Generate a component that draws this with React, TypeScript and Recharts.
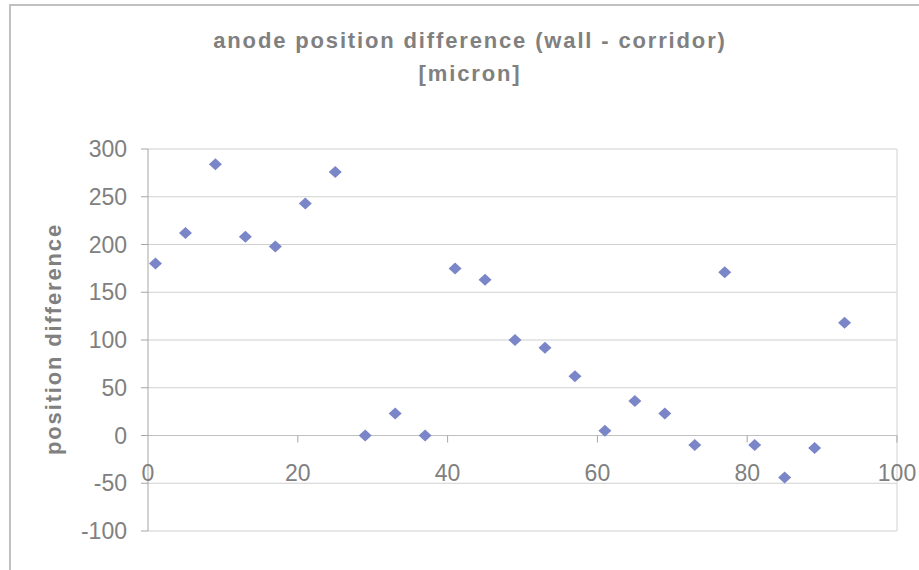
import React from "react";
import {
  ScatterChart,
  Scatter,
  XAxis,
  YAxis,
  CartesianGrid,
  ReferenceLine,
} from "recharts";

// chamber index
const positions = [1, 5, 9, 13, 17, 21, 25, 29, 33, 37, 41, 45, 49, 53, 57, 61, 65, 69, 73, 77, 81, 85, 89, 93];
// wall - corridor difference, micron
const differences = [180, 212, 284, 208, 198, 243, 276, 0, 23, 0, 175, 163, 100, 92, 62, 5, 36, 23, -10, 171, -10, -44, -13, 118];

const xTicks = [0, 20, 40, 60, 80, 100];
const yTicks = [-100, -50, 0, 50, 100, 150, 200, 250, 300];

const data = positions.map((x, i) => ({ x, y: differences[i] }));

const W = 919;
const H = 570;
const PLOT_TOP = 149;
const PLOT_BOTTOM = 531;
const PLOT_LEFT = 148;
const PLOT_RIGHT = 897;
const Y_AXIS_W = 60;
const X_AXIS_H = 30;

const GRAY = "#808080";
const FONT = "'Liberation Sans', Arial, sans-serif";

// distance from plot bottom (-100) up to the zero line
const zeroOffset = ((0 - -100) / (300 - -100)) * (PLOT_BOTTOM - PLOT_TOP);

const Diamond = (props: any) => {
  const { cx, cy } = props;
  if (cx == null || cy == null) return null;
  const w = 6.5;
  const h = 6;
  return (
    <polygon
      points={`${cx - w},${cy} ${cx},${cy - h} ${cx + w},${cy} ${cx},${cy + h}`}
      fill="#7B86C8"
    />
  );
};

const XTick = (props: any) => {
  const { x, y, payload } = props;
  const y0 = y - zeroOffset;
  return (
    <g>
      {payload.value !== 0 && (
        <line x1={x} x2={x} y1={y0} y2={y0 + 7} stroke="#a6a6a6" />
      )}
      <text
        x={x}
        y={y0 + 45}
        textAnchor="middle"
        fill={GRAY}
        fontSize={23}
        fontFamily={FONT}
      >
        {payload.value}
      </text>
    </g>
  );
};

const titleStyle = {
  fill: GRAY,
  fontSize: 22,
  fontWeight: "bold" as const,
  letterSpacing: 1.85,
  fontFamily: FONT,
};

const App = () => {
  return (
    <div style={{ position: "absolute", left: 0, top: 0, width: W, height: H, background: "#fff" }}>
      <ScatterChart
        width={W}
        height={H}
        margin={{
          top: PLOT_TOP,
          bottom: H - PLOT_BOTTOM - X_AXIS_H,
          left: PLOT_LEFT - Y_AXIS_W,
          right: W - PLOT_RIGHT,
        }}
      >
        <CartesianGrid vertical={false} stroke="#d0d0d0" strokeWidth={1.2} />
        <XAxis
          type="number"
          dataKey="x"
          domain={[0, 100]}
          ticks={xTicks}
          axisLine={false}
          tickLine={false}
          tickSize={0}
          tickMargin={0}
          height={X_AXIS_H}
          tick={<XTick />}
          interval={0}
        />
        <YAxis
          type="number"
          dataKey="y"
          domain={[-100, 300]}
          ticks={yTicks}
          width={Y_AXIS_W}
          axisLine={{ stroke: "#a6a6a6" }}
          tickLine={{ stroke: "#a6a6a6" }}
          tickSize={7}
          tickMargin={14}
          interval={0}
          tick={{ fill: GRAY, fontSize: 23, fontFamily: FONT }}
        />
        <ReferenceLine x={100} stroke="#e0e0e0" strokeWidth={1.5} />
        <ReferenceLine y={0} stroke="#c0c0c0" />
        <Scatter data={data} shape={<Diamond />} isAnimationActive={false} />
      </ScatterChart>
      <svg
        width={W}
        height={H}
        style={{ position: "absolute", left: 0, top: 0, pointerEvents: "none" }}
      >
        <rect x={10} y={5} width={W + 20} height={H + 20} fill="none" stroke="#c0c0c0" strokeWidth={2} />
        <text x={470} y={48} textAnchor="middle" {...titleStyle}>
          anode position difference (wall - corridor)
        </text>
        <text x={470} y={81} textAnchor="middle" {...titleStyle}>
          [micron]
        </text>
        <text
          x={61}
          y={339}
          transform="rotate(-90 61 339)"
          textAnchor="middle"
          {...titleStyle}
        >
          position difference
        </text>
      </svg>
    </div>
  );
};

export default App;
